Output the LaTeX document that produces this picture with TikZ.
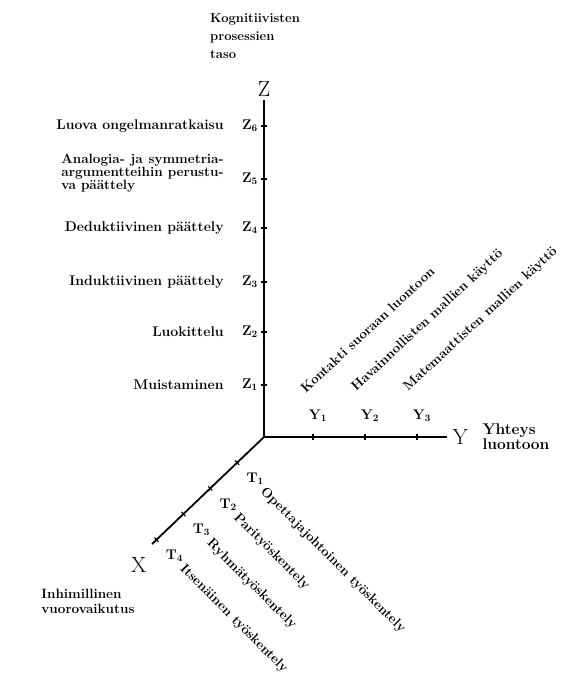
\documentclass[tikz,border=0pt]{standalone}
\usetikzlibrary{positioning,calc}

\newlength{\blockwidth}

\begin{document}
\settowidth{\blockwidth}{\fontsize{13.5}{12}\selectfont\bfseries argumentteihin perustu-}%
\begin{tikzpicture}[x=1pt,y=-1pt,
	axis/.style={line width=1.8pt},
	tick mark/.style={line width=1.1pt},
	letter node/.style={font=\fontsize{14}{14}\selectfont\bfseries,inner sep=1pt},
	level node/.style={font=\fontsize{14}{12}\selectfont\bfseries,inner sep=0pt,align=right},
	name node/.style={font=\fontsize{13.5}{15}\selectfont\bfseries,inner sep=0pt,align=left},
	slant node/.style={font=\fontsize{13.4}{13.4}\selectfont\bfseries,inner sep=0pt},
	big letter/.style={font=\fontsize{22}{22}\selectfont}]

	\useasboundingbox (0,0) rectangle (565,675);

	\coordinate (O) at (264,437);
	\coordinate (ztop) at (264,100);
	\coordinate (yend) at (447,437);
	\coordinate (xend) at (152,544);

	\draw[axis] (ztop) -- (O) -- (yend);
	\draw[axis] (O) -- (xend);

	% ticks
	\foreach \n/\y in {1/385,2/332,3/282,4/228,5/179,6/126}
		\coordinate (tz\n) at (264,\y);
	\foreach \n/\x in {1/313,2/365,3/417}
		\coordinate (ty\n) at (\x,437);
	\foreach \n/\t in {1/0.24,2/0.48,3/0.72,4/0.96}
		\coordinate (tx\n) at ($(O)!\t!(xend)$);

	\foreach \n in {1,...,6}
		\draw[tick mark] ([xshift=-3pt]tz\n) -- ([xshift=3pt]tz\n);
	\foreach \n in {1,2,3}
		\draw[tick mark] ([yshift=-3pt]ty\n) -- ([yshift=3pt]ty\n);
	\foreach \n in {1,...,4}
		\draw[tick mark] ($(tx\n)!3pt!90:(O)$) -- ($(tx\n)!3pt!-90:(O)$);

	% axis letters
	\node[big letter,above=0pt of ztop] (Z) {Z};
	\node[big letter,right=2pt of yend] (Y) {Y};
	\node[big letter,below left=10pt and 2pt of xend] (X) {X};

	\node[name node,anchor=north west,font=\fontsize{13}{18}\selectfont\bfseries] (zname) at (210,13) {Kognitiivisten\\prosessien\\taso};
	\node[name node,right=11pt of Y,font=\fontsize{15.5}{12}\selectfont\bfseries] (yname) {Yhteys\\luontoon};
	\node[name node,below left=13pt and -7pt of X] (xname) {Inhimillinen\\vuorovaikutus};

	% Z levels
	\node[letter node,left=5pt of tz1] (Z1) {Z\textsubscript{1}};
	\node[letter node,left=5pt of tz2] (Z2) {Z\textsubscript{2}};
	\node[letter node,left=5pt of tz3] (Z3) {Z\textsubscript{3}};
	\node[letter node,left=5pt of tz4] (Z4) {Z\textsubscript{4}};
	\node[letter node,left=5pt of tz5] (Z5) {Z\textsubscript{5}};
	\node[letter node,left=5pt of tz6] (Z6) {Z\textsubscript{6}};

	\node[level node,left=17pt of Z1] (L1) {Muistaminen};
	\node[level node,left=17pt of Z2] (L2) {Luokittelu};
	\node[level node,left=17pt of Z3] (L3) {Induktiivinen päättely};
	\node[level node,left=17pt of Z4] (L4) {Deduktiivinen päättely};
	\node[level node,left=17pt of Z5,yshift=6pt,text width=\blockwidth,align=justify,font=\fontsize{13.5}{12}\selectfont\bfseries] (L5)
		{Analogia- ja symmetria-\linebreak argumentteihin perustu-\linebreak va päättely};
	\node[level node,left=17pt of Z6] (L6) {Luova ongelmanratkaisu};

	% Y levels
	\node[letter node] (Y1) at ($(ty1)+(5,-21)$) {Y\textsubscript{1}};
	\node[letter node] (Y2) at ($(ty2)+(5,-21)$) {Y\textsubscript{2}};
	\node[letter node] (Y3) at ($(ty3)+(5,-21)$) {Y\textsubscript{3}};

	\node[slant node,rotate=43,anchor=south west] (K1) at ($(Y1.north)+(-12,-15)$) {Kontakti suoraan luontoon};
	\node[slant node,rotate=43,anchor=south west] (K2) at ($(Y2.north)+(-12,-15)$) {Havainnollisten mallien käyttö};
	\node[slant node,rotate=43,anchor=south west] (K3) at ($(Y3.north)+(-12,-15)$) {Matemaattisten mallien käyttö};

	% X levels
	\node[letter node] (T1) at ($(tx1)+(18,16)$) {T\textsubscript{1}};
	\node[letter node] (T2) at ($(tx2)+(18,16)$) {T\textsubscript{2}};
	\node[letter node] (T3) at ($(tx3)+(18,16)$) {T\textsubscript{3}};
	\node[letter node] (T4) at ($(tx4)+(18,16)$) {T\textsubscript{4}};

	\node[slant node,rotate=-45,anchor=north west] (W1) at ([xshift=2pt]T1.south east) {Opettajajohtoinen työskentely};
	\node[slant node,rotate=-45,anchor=north west] (W2) at ([xshift=2pt]T2.south east) {Parityöskentely};
	\node[slant node,rotate=-45,anchor=north west] (W3) at ([xshift=2pt]T3.south east) {Ryhmätyöskentely};
	\node[slant node,rotate=-45,anchor=north west] (W4) at ([xshift=2pt]T4.south east) {Itsenäinen työskentely};
\end{tikzpicture}
\end{document}
